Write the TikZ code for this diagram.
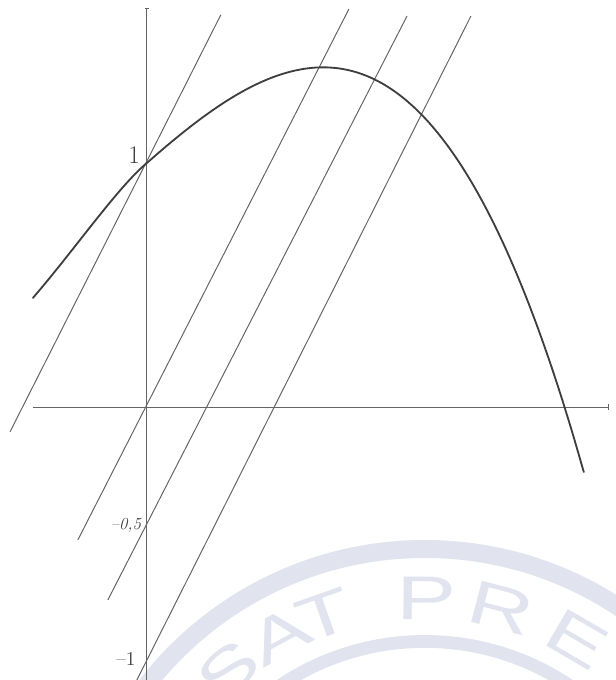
\documentclass[tikz,border=0pt]{standalone}
\usepackage{fontspec}
\newfontfamily\stampfont[FakeStretch=1.45]{Liberation Sans}
\usetikzlibrary{arrows.meta}
\definecolor{pencil}{RGB}{100,100,100}
\definecolor{lead}{RGB}{62,62,62}
\definecolor{stamp}{RGB}{225,228,239}

\begin{document}
\begin{tikzpicture}[x=6.1cm, y=6.1cm,
    axis/.style={draw=pencil, line width=0.65pt},
    chord/.style={draw=pencil, line width=0.7pt},
    graph/.style={draw=lead, line width=1.3pt, line cap=round},
    lbl/.style={text=lead, inner sep=0pt},
    ring/.style={draw=stamp},
    stampletter/.style={text=stamp, inner sep=0pt,
                        font=\stampfont\fontsize{44}{44}\selectfont},
  ]
  \useasboundingbox (-0.602,-1.119) rectangle (1.922,1.668);

  % watermark behind the sketch
  \begin{scope}
    \clip (-0.602,-1.119) rectangle (1.922,1.668);
    \coordinate (seal) at (1.139,-2.025);
    \draw[ring, line width=0.45cm] (seal) circle (1.443);
    \draw[ring, line width=0.32cm] (seal) circle (1.064);
    \foreach \ch/\ang in {S/130.6, A/118.6, T/109.4, P/89.6, R/75.3, E/59.8}
      \node[stampletter, rotate=\ang-90] at ([shift={(\ang:1.24)}]seal) {\ch};
  \end{scope}

  % axes
  \coordinate (xl) at (-0.467,0);
  \coordinate (xr) at (1.894,0);
  \coordinate (yb) at (0,-1.119);
  \coordinate (yt) at (0,1.635);
  \draw[axis, -{Bar[width=4pt]}] (xl) -- (xr);
  \draw[axis, -{Bar[width=3pt]}] (yb) -- (yt);

  % parallel lines
  \foreach \n/\p/\q in {a/{-0.561,-0.102}/{0.303,1.607},
                        b/{-0.283,-0.545}/{0.828,1.631},
                        c/{-0.160,-0.791}/{1.066,1.602},
                        d/{-0.041,-1.119}/{1.328,1.602}} {
    \coordinate (\n0) at (\p);
    \coordinate (\n1) at (\q);
    \draw[chord] (\n0) -- (\n1);
  }

  % the curve
  \draw[graph] (-0.467,0.447) .. controls (-0.3,0.64) and (-0.12,0.9) .. (0,1)
    -- plot[domain=0:1.791, samples=40, smooth]
       (\x,{1+0.88*\x-0.1833*\x^2-0.3927*\x^3});

  % labels on the y axis
  \node[lbl, font=\fontsize{18}{18}\selectfont] (one) at (-0.052,1.033) {1};
  \node[lbl, font=\fontsize{12}{12}\selectfont\itshape] (mhalf) at (-0.086,-0.484)
    {\textendash0,5};
  \node[lbl, font=\fontsize{14}{14}\selectfont] (mone) at (-0.086,-1.033)
    {\textendash1};
\end{tikzpicture}
\end{document}
